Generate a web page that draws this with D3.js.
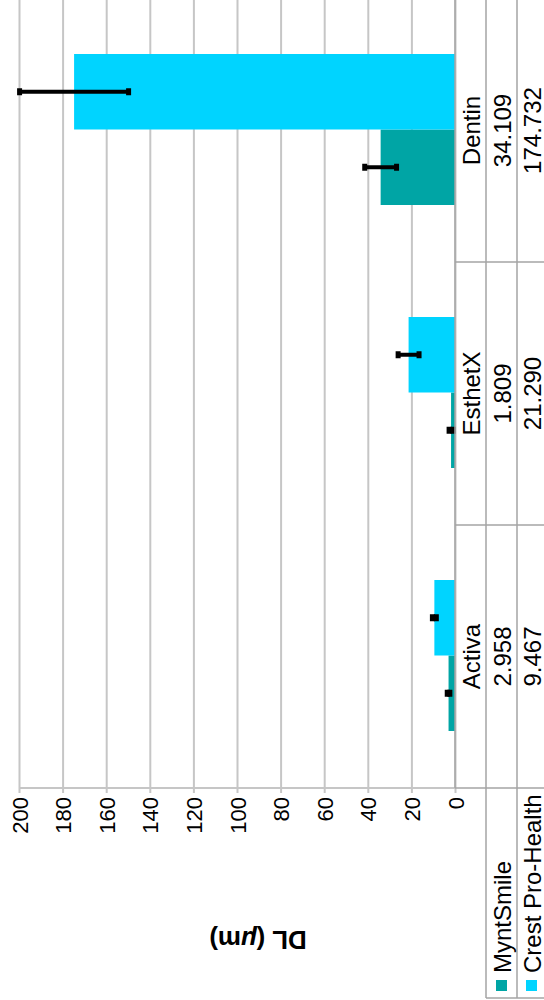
<!DOCTYPE html>
<html>
<head>
<meta charset="utf-8">
<script src="https://cdn.jsdelivr.net/npm/d3@7"></script>
<style>
  body { margin: 0; background: #fff; }
  svg { display: block; font-family: "Liberation Sans", Arial, sans-serif; }
</style>
</head>
<body>
<script>
// data
var categories = ["Activa", "EsthetX", "Dentin"];
var series = ["MyntSmile", "Crest Pro-Health"];
var myntSmile = [2.958, 1.809, 34.109];
var crest = [9.467, 21.290, 174.732];
var myntSD = [0.6, 0.9, 7.3];
var crestSD = [0.9, 4.8, 25.0];
var tickValues = [0, 20, 40, 60, 80, 100, 120, 140, 160, 180, 200];
var colors = ["#00a5a5", "#00d4ff"];

var width = 544, height = 1000;
var plotTop = -1, plotBottom = 788;
var colA = 455, colB = 486, colC = 517;

var svg = d3.select("body").append("svg")
    .attr("width", width)
    .attr("height", height);

// value scale runs right to left (chart is turned on its side)
var xScale = d3.scaleLinear().domain([0, 200]).range([colA, 19]);

// categories from bottom to top
var yScale = d3.scaleBand().domain(categories).range([plotBottom, plotTop]);
var bw = yScale.bandwidth();
var ySub = d3.scaleBand().domain(series).range([bw - 57, 55]);

// gridlines via axis
var grid = svg.append("g")
    .attr("transform", "translate(0," + (plotBottom + 5) + ")")
    .call(d3.axisBottom(xScale).tickValues(tickValues).tickSize(-(plotBottom + 5 - plotTop)).tickFormat(""));
grid.select(".domain").remove();
grid.selectAll(".tick line").attr("stroke", "#c6c6c6").attr("stroke-width", 2);

// tick labels
svg.append("g").selectAll("text")
    .data(tickValues)
    .enter()
    .append("text")
    .attr("transform", function(d) { return "translate(" + (xScale(d) + 1) + ",797) rotate(-90)"; })
    .attr("text-anchor", "end")
    .attr("dominant-baseline", "central")
    .attr("font-size", 22)
    .attr("fill", "#000")
    .text(function(d) { return d; });

// axis line
svg.append("line")
    .attr("x1", xScale(200)).attr("x2", colA)
    .attr("y1", plotBottom).attr("y2", plotBottom)
    .attr("stroke", "#c6c6c6").attr("stroke-width", 2);

// bars
var rows = categories.map(function(c, i) {
    return [
        {cat: c, s: series[0], v: myntSmile[i], sd: myntSD[i], color: colors[0]},
        {cat: c, s: series[1], v: crest[i], sd: crestSD[i], color: colors[1]}
    ];
});
var flat = [].concat.apply([], rows);

svg.append("g").selectAll("rect")
    .data(flat)
    .enter()
    .append("rect")
    .attr("x", function(d) { return xScale(d.v); })
    .attr("y", function(d) { return yScale(d.cat) + ySub(d.s); })
    .attr("width", function(d) { return xScale(0) - xScale(d.v); })
    .attr("height", ySub.bandwidth())
    .attr("fill", function(d) { return d.color; });

// error bars
var err = svg.append("g").selectAll("g")
    .data(flat)
    .enter()
    .append("g")
    .attr("transform", function(d) { return "translate(0," + (yScale(d.cat) + ySub(d.s) + ySub.bandwidth() / 2) + ")"; });
err.append("line")
    .attr("x1", function(d) { return xScale(d.v - d.sd); })
    .attr("x2", function(d) { return xScale(d.v + d.sd); })
    .attr("stroke", "#000").attr("stroke-width", 4);
err.selectAll("rect")
    .data(function(d) { return [d.v - d.sd, d.v + d.sd]; })
    .enter()
    .append("rect")
    .attr("x", function(v) { return xScale(v) - 2.5; })
    .attr("y", -3.5)
    .attr("width", 5).attr("height", 7)
    .attr("fill", "#000");

// data table lines
var tl = svg.append("g").attr("stroke", "#a4a4a4").attr("stroke-width", 1.5);
tl.append("line").attr("x1", colA).attr("x2", colA).attr("y1", plotTop).attr("y2", plotBottom);
tl.append("line").attr("x1", colB).attr("x2", colB).attr("y1", plotTop).attr("y2", 998);
tl.append("line").attr("x1", colC).attr("x2", colC).attr("y1", plotTop).attr("y2", 998);
tl.append("line").attr("x1", colB).attr("x2", width).attr("y1", 998).attr("y2", 998);
tl.selectAll(".sep")
    .data(categories)
    .enter()
    .append("line")
    .attr("x1", colA).attr("x2", width)
    .attr("y1", function(d) { return yScale(d) + bw; })
    .attr("y2", function(d) { return yScale(d) + bw; });
tl.append("line").attr("x1", colA).attr("x2", width).attr("y1", yScale("Dentin")).attr("y2", yScale("Dentin"));

// table text
var cellX = [471, 502, 532];
var tableText = svg.append("g").attr("font-size", 24).attr("fill", "#000");
categories.forEach(function(c, i) {
    var cy = yScale(c) + bw / 2;
    [c, myntSmile[i].toFixed(3), crest[i].toFixed(3)].forEach(function(t, j) {
        tableText.append("text")
            .attr("transform", "translate(" + cellX[j] + "," + cy + ") rotate(-90)")
            .attr("text-anchor", "middle")
            .attr("dominant-baseline", "central")
            .text(t);
    });
});

// legend in the table's left column
series.forEach(function(s, i) {
    var lx = cellX[i + 1];
    svg.append("rect")
        .attr("x", lx - 6).attr("y", 980)
        .attr("width", 11).attr("height", 11)
        .attr("fill", colors[i]);
    svg.append("text")
        .attr("transform", "translate(" + lx + ",973) rotate(-90)")
        .attr("text-anchor", "start")
        .attr("dominant-baseline", "central")
        .attr("font-size", 24)
        .text(s);
});

// value axis title
svg.append("text")
    .attr("transform", "translate(258,940) rotate(180)")
    .attr("text-anchor", "middle")
    .attr("dominant-baseline", "central")
    .attr("font-size", 26)
    .attr("font-weight", "bold")
    .html('DL (<tspan font-style="italic">μ</tspan>m)');
</script>
</body>
</html>
